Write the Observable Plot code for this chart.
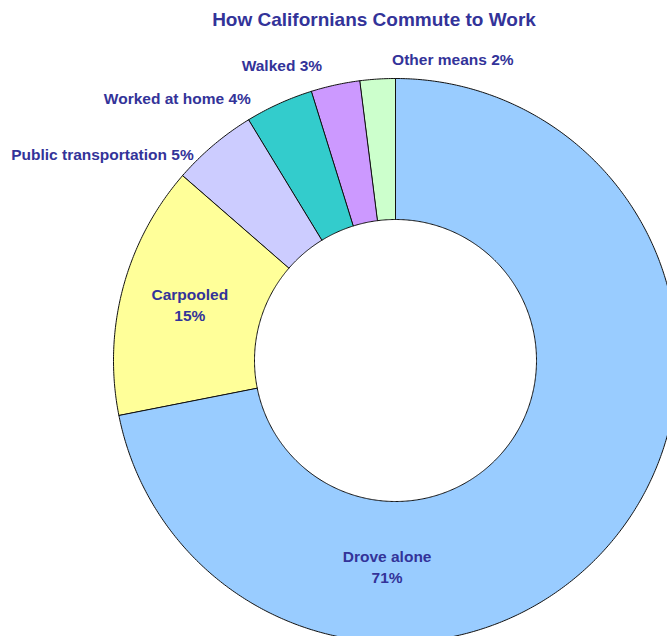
<!DOCTYPE html>
<html><head><meta charset="utf-8">
<script src="https://cdn.jsdelivr.net/npm/d3@7"></script>
<script src="https://cdn.jsdelivr.net/npm/@observablehq/plot@0.6"></script>
<style>
body{margin:0;background:#fff;font-family:"Liberation Sans",Arial,sans-serif;overflow:hidden;}
#title{height:40px;line-height:40px;font-size:19px;font-weight:bold;color:#333399;text-align:center;padding-left:81px;width:586px;white-space:nowrap}
</style></head><body>
<div id="title">How Californians Commute to Work</div>
<div id="chart"></div>
<script>
const categories = ["Drove alone","Carpooled","Public transportation","Worked at home","Walked","Other means"];
const shares = [71.9, 14.5, 4.9, 3.9, 2.8, 2.0];
const shareLabels = ["71%","15%","5%","4%","3%","2%"];
const colors = ["#99CCFF","#FFFF99","#CCCCFF","#33CCCC","#CC99FF","#CCFFCC"];

// label layout (relative to each slice's mid angle)
const labelAngleShift = [52.9, 0, -14.9, -15.6, -8.9, 14.4];
const labelRadius = [0.735, 0.755, 1.268, 1.206, 1.117, 1.085];
const labelBreak = ["\n","\n"," "," "," "," "];

const W = 667, H = 596, CX = 395, CY = 320, R = 282, INNER = 0.5;
const total = d3.sum(shares);
const toRad = Math.PI / 180;
let acc = 0;
const ring = [], labels = [];
categories.forEach((c, i) => {
  const a0 = acc / total * 360; acc += shares[i]; const a1 = acc / total * 360;
  const n = Math.max(2, Math.ceil((a1 - a0) / 0.5));
  for (let k = 0; k <= n; k++) { const a = (a0 + (a1 - a0) * k / n) * toRad; ring.push({cat: c, x: Math.sin(a), y: Math.cos(a)}); }
  for (let k = n; k >= 0; k--) { const a = (a0 + (a1 - a0) * k / n) * toRad; ring.push({cat: c, x: INNER * Math.sin(a), y: INNER * Math.cos(a)}); }
  const m = ((a0 + a1) / 2 + labelAngleShift[i]) * toRad;
  labels.push({x: labelRadius[i] * Math.sin(m), y: labelRadius[i] * Math.cos(m), text: c + labelBreak[i] + shareLabels[i]});
});

const chart = Plot.plot({
  width: W, height: H, margin: 0,
  x: {domain: [-CX / R, (W - CX) / R], axis: null},
  y: {domain: [-(H - CY) / R, CY / R], axis: null},
  color: {domain: categories, range: colors},
  style: {background: "white", fontFamily: "'Liberation Sans', Arial, sans-serif"},
  marks: [
    Plot.line(ring, {x: "x", y: "y", z: "cat", fill: "cat", stroke: "#111", strokeWidth: 1, curve: "linear-closed", clip: "frame"}),
    Plot.text(labels, {x: "x", y: "y", dy: -2, text: "text", fill: "#333399", fontSize: 15.5, fontWeight: "bold", lineHeight: 1.36, lineAnchor: "middle"})
  ]
});
document.getElementById("chart").appendChild(chart);
</script>
</body></html>
